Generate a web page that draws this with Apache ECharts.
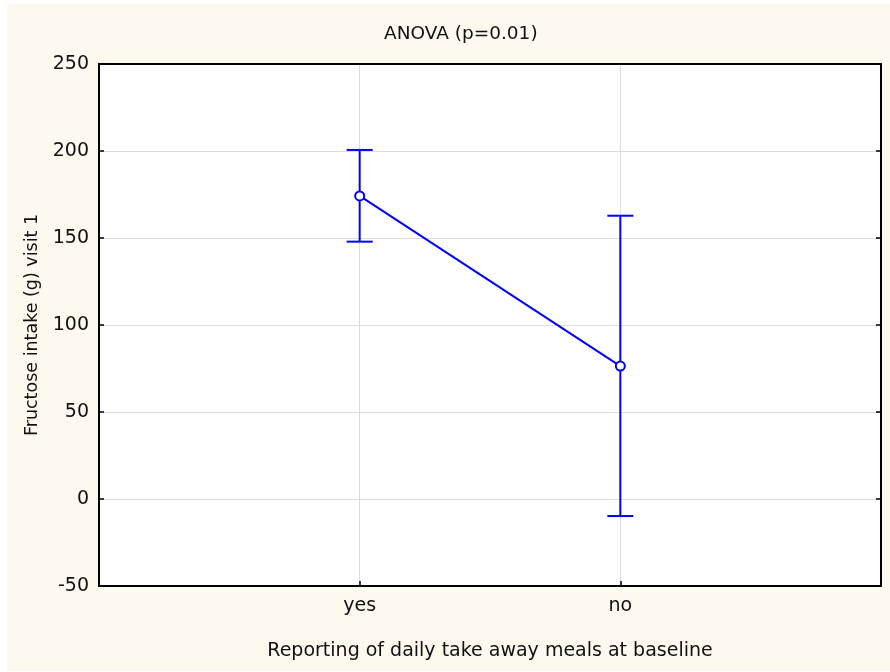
<!DOCTYPE html>
<html>
<head>
<meta charset="utf-8">
<script src="https://cdn.jsdelivr.net/npm/echarts@6/dist/echarts.min.js"></script>
<style>
html,body{margin:0;padding:0;background:#ffffff;}
#chart{width:890px;height:672px;}
</style>
</head>
<body>
<div id="chart"></div>
<script>
// Data
var categories = ['', 'yes', 'no', ''];
var means = ['-', 174.2, 76.4, '-'];
var lowerCI = [147.9, -9.8];
var upperCI = [200.6, 162.8];
var errIdx = [1, 2];
var yTicks = {min: -50, max: 250, interval: 50};
var titleText = 'ANOVA (p=0.01)';
var xName = 'Reporting of daily take away meals at baseline';
var yName = 'Fructose intake (g) visit 1';

var FONT = 'DejaVu Sans';
var BLUE = '#0000ff';

var errData = errIdx.map(function (c, i) { return [c, lowerCI[i], upperCI[i]]; });

var chart = echarts.init(document.getElementById('chart'), null, {renderer: 'canvas'});
chart.setOption({
  animation: false,
  backgroundColor: '#ffffff',
  graphic: [{
    type: 'rect', z: -10, silent: true,
    shape: {x: 7, y: 4, width: 883, height: 667},
    style: {fill: '#fdf9ef'}
  }],
  title: {
    text: titleText, left: 379, top: 20,
    textStyle: {fontFamily: FONT, fontSize: 18.5, fontWeight: 'normal', color: '#111'}
  },
  grid: {left: 99, top: 64, right: 9, bottom: 86, show: true, backgroundColor: '#ffffff', borderColor: '#000', borderWidth: 0},
  xAxis: [{
    type: 'category', data: categories, boundaryGap: false,
    name: xName, nameLocation: 'middle', nameGap: 56,
    nameTextStyle: {fontFamily: FONT, fontSize: 19, color: '#111'},
    axisLine: {show: true, onZero: false, lineStyle: {color: '#000', width: 2}},
    axisTick: {show: true, inside: true, length: 5, lineStyle: {color: '#000', width: 1.5}, interval: function (i) { return i === 1 || i === 2; }},
    axisLabel: {fontFamily: FONT, fontSize: 19, color: '#111', margin: 11, interval: 0},
    splitLine: {show: true, interval: function (i) { return i === 1 || i === 2; }, lineStyle: {color: '#dcdcdc', width: 1}}
  }, {
    type: 'category', data: categories, boundaryGap: false, position: 'top',
    axisLine: {show: true, onZero: false, lineStyle: {color: '#000', width: 2}},
    axisTick: {show: false}, axisLabel: {show: false}, splitLine: {show: false}
  }],
  yAxis: [{
    type: 'value', min: yTicks.min, max: yTicks.max, interval: yTicks.interval,
    name: yName, nameLocation: 'middle', nameGap: 49, nameRotate: 90,
    nameTextStyle: {fontFamily: FONT, fontSize: 17.5, color: '#111'},
    axisLine: {show: true, onZero: false, lineStyle: {color: '#000', width: 2}},
    axisTick: {show: true, inside: true, length: 5, lineStyle: {color: '#000', width: 1.5}},
    axisLabel: {fontFamily: FONT, fontSize: 19, color: '#111', margin: 10},
    splitLine: {show: true, lineStyle: {color: '#dcdcdc', width: 1}}
  }, {
    type: 'value', min: yTicks.min, max: yTicks.max, interval: yTicks.interval, position: 'right',
    axisLine: {show: true, onZero: false, lineStyle: {color: '#000', width: 2}},
    axisTick: {show: true, inside: true, length: 5, lineStyle: {color: '#000', width: 1.5}},
    axisLabel: {show: false}, splitLine: {show: false}
  }],
  series: [{
    type: 'custom',
    data: errData,
    encode: {x: 0, y: [1, 2]},
    z: 3,
    renderItem: function (params, api) {
      var x = api.value(0);
      var lo = api.coord([x, api.value(1)]);
      var hi = api.coord([x, api.value(2)]);
      var hw = 13;
      var st = {stroke: BLUE, lineWidth: 2, fill: null};
      return {
        type: 'group',
        children: [
          {type: 'line', shape: {x1: hi[0], y1: hi[1], x2: lo[0], y2: lo[1]}, style: st},
          {type: 'line', shape: {x1: hi[0] - hw, y1: hi[1], x2: hi[0] + hw, y2: hi[1]}, style: st},
          {type: 'line', shape: {x1: lo[0] - hw, y1: lo[1], x2: lo[0] + hw, y2: lo[1]}, style: st}
        ]
      };
    }
  }, {
    type: 'line',
    data: means,
    z: 4,
    symbol: 'circle', symbolSize: 9, showSymbol: true,
    itemStyle: {color: '#ffffff', borderColor: BLUE, borderWidth: 2},
    lineStyle: {color: BLUE, width: 2}
  }]
});
</script>
</body>
</html>
